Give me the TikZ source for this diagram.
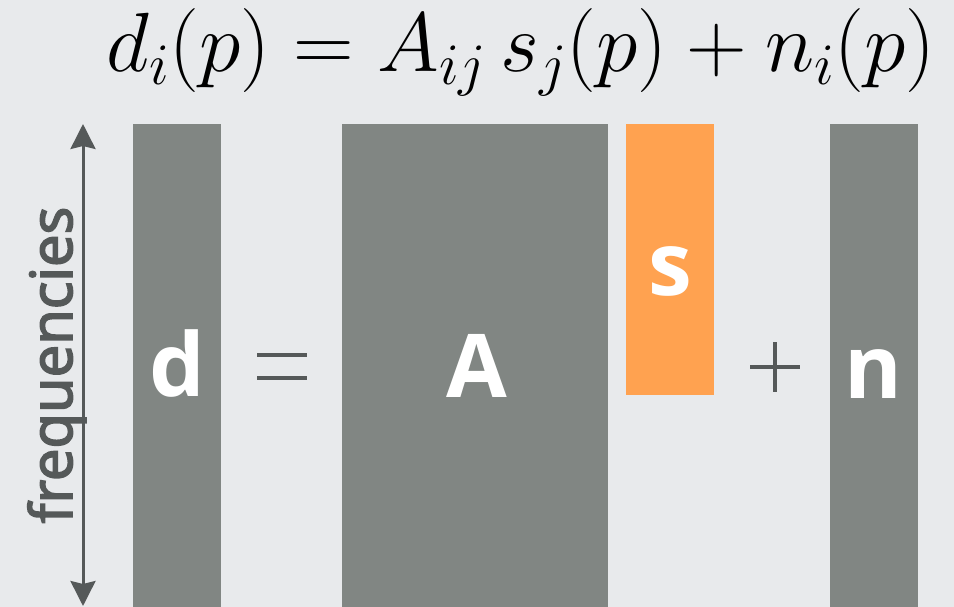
\RequirePackage{fix-cm}
\documentclass[tikz,border=0pt]{standalone}
\usepackage{fontspec}
\setsansfont{Open Sans}
\newfontfamily\freqfont{Open Sans}[FakeBold=3]
\usetikzlibrary{arrows.meta}
\definecolor{bggrey}{HTML}{E8EAEC}
\definecolor{bargrey}{HTML}{818683}
\definecolor{sorange}{HTML}{FFA250}
\definecolor{inkgrey}{HTML}{555959}
\tikzset{
  bar/.style={fill=bargrey,inner sep=0pt,anchor=north west},
  lbl/.style={text=white,font=\sffamily\bfseries\fontsize{88}{96}\selectfont,anchor=base,inner sep=0pt},
  opline/.style={draw=inkgrey,line width=3.4pt}
}
\begin{document}
\begin{tikzpicture}[x=1pt,y=-1pt]
			\useasboundingbox (0,0) rectangle (954,607);
			\fill[bggrey] (0,0) rectangle (954,607);
			% the model
			\node[anchor=base,inner sep=0pt,font=\fontsize{84}{92}\selectfont] (eq) at (521,72)
				{$d_i(p) = A_{ij}\,s_j(p) + n_i(p)$};
			% bars
			\node[bar,minimum width=88pt,minimum height=483pt] (dbar) at (133,124) {};
			\node[bar,minimum width=266pt,minimum height=483pt] (Abar) at (342,124) {};
			\node[bar,fill=sorange,minimum width=88pt,minimum height=271pt] (sbar) at (626,124) {};
			\node[bar,minimum width=88pt,minimum height=483pt] (nbar) at (830,124) {};
			% labels
			\node[lbl] (dlab) at (177,396) {d};
			\node[lbl] (Alab) at (477,397) {A};
			\node[lbl] (slab) at (670,295) {s};
			\node[lbl] (nlab) at (873,398) {n};
			% equals and plus
			\draw[opline] (257,355) -- (307,355);
			\draw[opline] (257,378) -- (307,378);
			\draw[opline] (750,367) -- (800,367);
			\draw[opline] (775,342) -- (775,392);
			% frequency axis
			\coordinate (ftop) at (83,124);
			\coordinate (fbot) at (83,606);
			\draw[inkgrey,line width=3pt,{Stealth[length=25pt,width=25pt,inset=3pt]}-{Stealth[length=25pt,width=25pt,inset=3pt]}] (fbot) -- (ftop);
			\node[rotate=90,anchor=base,inner sep=0pt,text=inkgrey,font=\freqfont\fontsize{58}{64}\selectfont] (freq) at (72,365) {frequencies};
\end{tikzpicture}
\end{document}
